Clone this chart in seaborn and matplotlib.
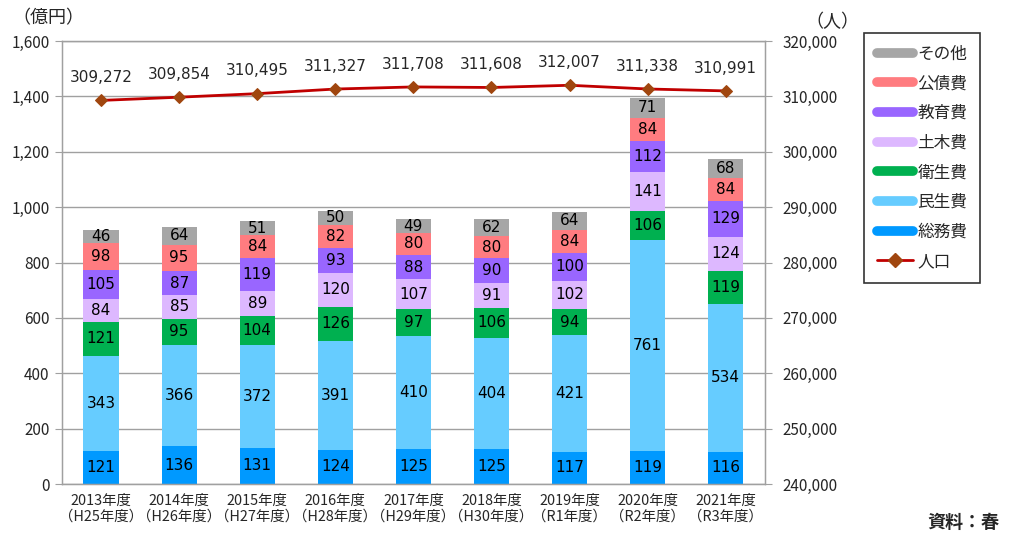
import numpy as np
import pandas as pd
import matplotlib
matplotlib.use("Agg")
import matplotlib.pyplot as plt
from matplotlib.lines import Line2D
import seaborn as sns

sns.set_style("white")
plt.rcParams['font.family'] = ['Noto Sans CJK JP', 'DejaVu Sans']

years = ["2013年度\n（H25年度）", "2014年度\n（H26年度）", "2015年度\n（H27年度）",
         "2016年度\n（H28年度）", "2017年度\n（H29年度）", "2018年度\n（H30年度）",
         "2019年度\n（R1年度）", "2020年度\n（R2年度）", "2021年度\n（R3年度）"]
soumu = [121, 136, 131, 124, 125, 125, 117, 119, 116]
minsei = [343, 366, 372, 391, 410, 404, 421, 761, 534]
eisei = [121, 95, 104, 126, 97, 106, 94, 106, 119]
doboku = [84, 85, 89, 120, 107, 91, 102, 141, 124]
kyoiku = [105, 87, 119, 93, 88, 90, 100, 112, 129]
kousai = [98, 95, 84, 82, 80, 80, 84, 84, 84]
sonota = [46, 64, 51, 50, 49, 62, 64, 71, 68]
population = [309272, 309854, 310495, 311327, 311708, 311608, 312007, 311338, 310991]

series_names = ["総務費", "民生費", "衛生費", "土木費", "教育費", "公債費", "その他"]
series_vals = [soumu, minsei, eisei, doboku, kyoiku, kousai, sonota]
colors = ["#0099FF", "#66CCFF", "#00B050", "#DDB8FF", "#9966FF", "#FF7C80", "#A6A6A6"]

fig = plt.figure(figsize=(10.13, 5.34), dpi=100)
ax = fig.add_axes([0.0612, 0.0936, 0.6938, 0.8296])

bottom = np.zeros(len(years))
for name, vals, col in zip(series_names, series_vals, colors):
    df = pd.DataFrame({"year": years, "v": vals})
    sns.barplot(data=df, x="year", y="v", color=col, bottom=bottom, width=0.45,
                ax=ax, saturation=1, edgecolor="none", linewidth=0, order=years)
    for i, v in enumerate(vals):
        ax.text(i, bottom[i] + v / 2, f"{v}", ha="center", va="center",
                fontsize=11, color="black", family=['DejaVu Sans'])
    bottom = bottom + np.array(vals)

ax.set_ylim(0, 1600)
ax.set_yticks(range(0, 1601, 200))
ax.set_yticklabels([f"{t:,}" for t in range(0, 1601, 200)], fontsize=11)
ax.set_xlim(-0.5, len(years) - 0.5)
ax.set_xlabel("")
ax.set_ylabel("")
ax.grid(axis="y", color="#A0A0A0", linewidth=1)
ax.set_axisbelow(True)
ax.tick_params(axis="x", length=0, labelsize=10.4, pad=7)
ax.set_xticks(np.arange(-0.5, len(years), 1), minor=True)
ax.tick_params(axis="x", which="minor", length=5, color="#A0A0A0")
ax.tick_params(axis="y", length=5, color="#A0A0A0", left=True, pad=4)
for s in ax.spines.values():
    s.set_color("#A0A0A0")
    s.set_linewidth(1)

ax2 = ax.twinx()
pos = np.arange(len(years))
sns.lineplot(x=pos, y=population, ax=ax2, color="#C00000", linewidth=2,
             marker="D", markersize=6.5, markerfacecolor="#A0460F",
             markeredgecolor="#A0460F")
ax2.set_ylim(240000, 320000)
ax2.set_yticks(range(240000, 320001, 10000))
ax2.set_yticklabels([f"{t:,}" for t in range(240000, 320001, 10000)], fontsize=11)
ax2.tick_params(axis="y", length=5, color="#A0A0A0", right=True, pad=8)
ax2.set_ylabel("")
for s in ax2.spines.values():
    s.set_color("#A0A0A0")
for i, p in enumerate(population):
    ax2.annotate(f"{p:,}", (i, p), xytext=(0, 11), textcoords="offset points",
                 ha="center", va="bottom", fontsize=11, family=['DejaVu Sans'])

fig.text(0.012, 0.965, "（億円）", fontsize=13, ha="left", va="center")
fig.text(0.795, 0.958, "（人）", fontsize=13, ha="left", va="center")
fig.text(0.915, 0.004, "資料：春", fontsize=13, ha="left", va="bottom", fontweight="bold")

handles = [Line2D([0], [0], color=c, linewidth=7) for c in colors[::-1]]
handles.append(Line2D([0], [0], color="#C00000", linewidth=2, marker="D",
                      markersize=7, markerfacecolor="#A0460F", markeredgecolor="#A0460F"))
labels = series_names[::-1] + ["人口"]
leg = fig.legend(handles, labels, loc="upper left", bbox_to_anchor=(0.853, 0.938),
                 fontsize=12, frameon=True, fancybox=False, edgecolor="black",
                 handlelength=2.2, handletextpad=0.25, labelspacing=0.76,
                 borderpad=0.75, borderaxespad=0)
leg.get_frame().set_linewidth(1.2)

fig.savefig("out.png", dpi=100)
